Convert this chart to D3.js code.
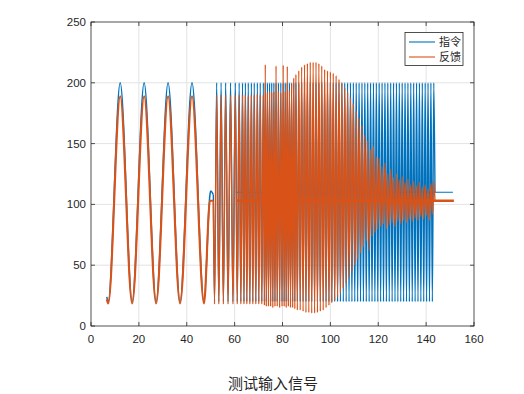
<!DOCTYPE html>
<html><head><meta charset="utf-8">
<script src="https://cdn.jsdelivr.net/npm/d3@7"></script>
<style>html,body{margin:0;padding:0;background:#fff}svg{display:block}</style>
</head><body>
<script>
// ---------------- data ----------------
const xTicks = [0, 20, 40, 60, 80, 100, 120, 140, 160];
const yTicks = [0, 50, 100, 150, 200, 250];
const seriesNames = ["指令", "反馈"];
const titleText = "测试输入信号";

// slow sine test (extrema and hold points)
const sineT   = [6.6, 7.2, 12.2, 17.2, 22.2, 27.2, 32.2, 37.2, 42.2, 47.2, 49.7, 50.0, 51.1];
const sineCmd = [24, 20, 200, 20, 200, 20, 200, 20, 200, 20, 108, 111, 108];
const sineFb  = [22, 18.5, 189, 18.5, 189, 18.5, 189, 18.5, 189, 18.5, 103, 103, 103];

// fast sweep: times of alternating trough / peak of the command (even index = trough)
const sweepT = [
  51.6, 52.5, 53.4, 54.35, 55.3, 56.25, 57.25, 58.3, 59.3, 60.3, 61.1,
  61.9, 62.6, 63.3, 63.9, 64.5, 65.1, 65.7, 66.35, 67.0, 67.6, 68.2, 68.85, 69.5, 70.1, 70.7, 71.35, 72.0, 72.45,
  72.8, 73.25, 73.7, 74.15, 74.6, 75.05, 75.5, 75.95, 76.4, 76.85, 77.3, 77.8, 78.3, 78.8, 79.3, 79.8,
  80.3, 80.7, 81.15, 81.55, 82.0, 82.45, 82.9, 83.35, 83.8, 84.25, 84.7, 85.15, 85.6, 86.2,
  86.8, 87.4, 88.0, 88.6, 89.2, 89.8, 90.4, 91.0, 91.6, 92.2, 92.8, 93.4, 94.0, 94.6, 95.2, 95.8,
  96.4, 97.0, 97.6, 98.2, 98.8, 99.4, 100.0, 100.6, 101.2, 101.8, 102.4, 103.0, 103.6, 104.2, 104.8, 105.4,
  106.0, 106.6, 107.2, 107.8, 108.4, 109.0, 109.6, 110.2, 110.8, 111.4, 112.0, 112.6, 113.2, 113.8, 114.4, 115.0,
  115.6, 116.2, 116.8, 117.4, 118.0, 118.6, 119.2, 119.8, 120.4, 121.0, 121.6, 122.2, 122.8, 123.4, 124.0, 124.6,
  125.2, 125.8, 126.4, 127.0, 127.6, 128.2, 128.8, 129.4, 130.0, 130.6, 131.2, 131.8, 132.4, 133.0, 133.6, 134.2,
  134.8, 135.4, 136.0, 136.6, 137.2, 137.8, 138.4, 139.0, 139.6, 140.2, 140.8, 141.4, 142.0, 142.6, 143.2
];
const sweepCmdLow = 20, sweepCmdHigh = 200;
const sweepFb = [
  18, 190, 18, 190, 18, 190, 18, 190, 18, 190, 18,
  190, 18, 190, 18, 190, 18, 189, 18, 190, 18, 190, 18, 191, 18, 190, 18, 190, 17,
  215, 16, 192, 16, 193, 16, 192, 15, 193, 16, 214, 16, 193, 15, 192, 16,
  214.5, 16, 193, 15, 213.5, 16, 194, 15, 199, 15, 204, 14, 207, 13,
  210, 13, 213, 12, 215, 11, 216, 11, 217, 10.5, 217, 10.5, 217, 11, 216, 12,
  214, 13, 211, 15, 210, 17, 209, 19, 208, 21, 206, 24, 203, 27, 200, 31,
  196, 35, 192, 40, 188, 45, 183, 50, 177, 55, 171, 60, 165, 65, 157, 70,
  152, 62, 145, 74, 148, 77, 139, 80, 138, 82, 131, 84, 134, 80, 125, 83,
  129, 85, 122, 82, 125, 86, 120, 84, 123, 87, 118, 85, 121, 88, 116, 86,
  119, 89, 115, 87, 118, 90, 114, 88, 116, 91, 113, 87, 117, 92, 119
];
const endT = 143.7, endCmd = 110, endFb = 103;

// centre hold lines
const cmdHoldT = [60.5, 151.2], cmdHold = 110;
const fbHoldT  = [60.6, 151.6], fbHold  = 103;

// ---------------- drawing ----------------
const W = 524, H = 394;
const M = {left: 91, right: 474, top: 22, bottom: 326};
const blue = "#0072BD", orange = "#D95319", axisCol = "#262626";

const svg = d3.select("body").append("svg").attr("width", W).attr("height", H);
const x = d3.scaleLinear().domain([0, 160]).range([M.left, M.right]);
const y = d3.scaleLinear().domain([0, 250]).range([M.bottom, M.top]);

// grid
const g = svg.append("g");
g.selectAll(".gx").data(xTicks.slice(1, -1)).enter().append("line")
  .attr("x1", d => x(d)).attr("x2", d => x(d)).attr("y1", M.top).attr("y2", M.bottom)
  .attr("stroke", "#e3e3e3").attr("stroke-width", 1);
g.selectAll(".gy").data(yTicks.slice(1, -1)).enter().append("line")
  .attr("y1", d => y(d)).attr("y2", d => y(d)).attr("x1", M.left).attr("x2", M.right)
  .attr("stroke", "#e3e3e3").attr("stroke-width", 1);

// point lists
const sineCmdPts = sineT.map((t, i) => [t, sineCmd[i]]);
const sineFbPts  = sineT.map((t, i) => [t, sineFb[i]]);
const last = sineT.length - 1;
const sweepCmdPts = [[sineT[last], sineCmd[last]]]
  .concat(sweepT.map((t, i) => [t, i % 2 ? sweepCmdHigh : sweepCmdLow]))
  .concat([[endT, endCmd]]);
const sweepFbPts = [[sineT[last], sineFb[last]]]
  .concat(sweepT.map((t, i) => [t, sweepFb[i]]))
  .concat([[endT, endFb]]);

const line = d3.line().x(d => x(d[0])).y(d => y(d[1])).curve(d3.curveMonotoneX);
const flat = d3.line().x(d => x(d[0])).y(d => y(d[1]));

const plot = svg.append("g").attr("fill", "none").attr("stroke-linejoin", "round");
plot.append("path").attr("d", flat(cmdHoldT.map(t => [t, cmdHold])))
  .attr("stroke", blue).attr("stroke-width", 1.1);
plot.append("path").attr("d", line(sineCmdPts)).attr("stroke", blue).attr("stroke-width", 1.5);
plot.append("path").attr("d", line(sweepCmdPts)).attr("stroke", blue).attr("stroke-width", 1.35);
plot.append("path").attr("d", line(sineFbPts)).attr("stroke", orange).attr("stroke-width", 2.1);
plot.append("path").attr("d", line(sweepFbPts)).attr("stroke", orange).attr("stroke-width", 1.35);
plot.append("path").attr("d", flat(fbHoldT.map(t => [t, fbHold])))
  .attr("stroke", orange).attr("stroke-width", 2.4);

// axes box
svg.append("rect").attr("x", M.left).attr("y", M.top)
  .attr("width", M.right - M.left).attr("height", M.bottom - M.top)
  .attr("fill", "none").attr("stroke", axisCol).attr("stroke-width", 0.8);

// ticks (inward, all sides) and labels
const tk = 4;
const ax = svg.append("g").attr("stroke", axisCol).attr("stroke-width", 0.8);
xTicks.forEach(d => {
  ax.append("line").attr("x1", x(d)).attr("x2", x(d)).attr("y1", M.bottom).attr("y2", M.bottom - tk);
  ax.append("line").attr("x1", x(d)).attr("x2", x(d)).attr("y1", M.top).attr("y2", M.top + tk);
});
yTicks.forEach(d => {
  ax.append("line").attr("y1", y(d)).attr("y2", y(d)).attr("x1", M.left).attr("x2", M.left + tk);
  ax.append("line").attr("y1", y(d)).attr("y2", y(d)).attr("x1", M.right).attr("x2", M.right - tk);
});
const lab = svg.append("g").attr("font-family", "'Liberation Sans', Arial, sans-serif")
  .attr("font-size", 11.5).attr("fill", axisCol);
lab.selectAll(".xl").data(xTicks).enter().append("text")
  .attr("x", d => x(d)).attr("y", M.bottom + 17).attr("text-anchor", "middle").text(d => d);
lab.selectAll(".yl").data(yTicks).enter().append("text")
  .attr("x", M.left - 5).attr("y", d => y(d) + 4).attr("text-anchor", "end").text(d => d);

// legend
const lg = svg.append("g");
lg.append("rect").attr("x", 405).attr("y", 32.5).attr("width", 58).attr("height", 33)
  .attr("fill", "#fff").attr("stroke", axisCol).attr("stroke-width", 0.8);
[blue, orange].forEach((c, i) => {
  const yy = 42 + i * 15;
  lg.append("line").attr("x1", 409).attr("x2", 435).attr("y1", yy).attr("y2", yy)
    .attr("stroke", c).attr("stroke-width", 1.1);
  lg.append("text").attr("x", 439).attr("y", yy + 4)
    .attr("font-family", "'Noto Sans CJK SC', sans-serif").attr("font-size", 11)
    .attr("fill", axisCol).text(seriesNames[i]);
});

// title below
svg.append("text").attr("x", 273).attr("y", 389).attr("text-anchor", "middle")
  .attr("font-family", "'Noto Sans CJK SC', sans-serif").attr("font-size", 15)
  .attr("fill", axisCol).text(titleText);
</script>
</body></html>
